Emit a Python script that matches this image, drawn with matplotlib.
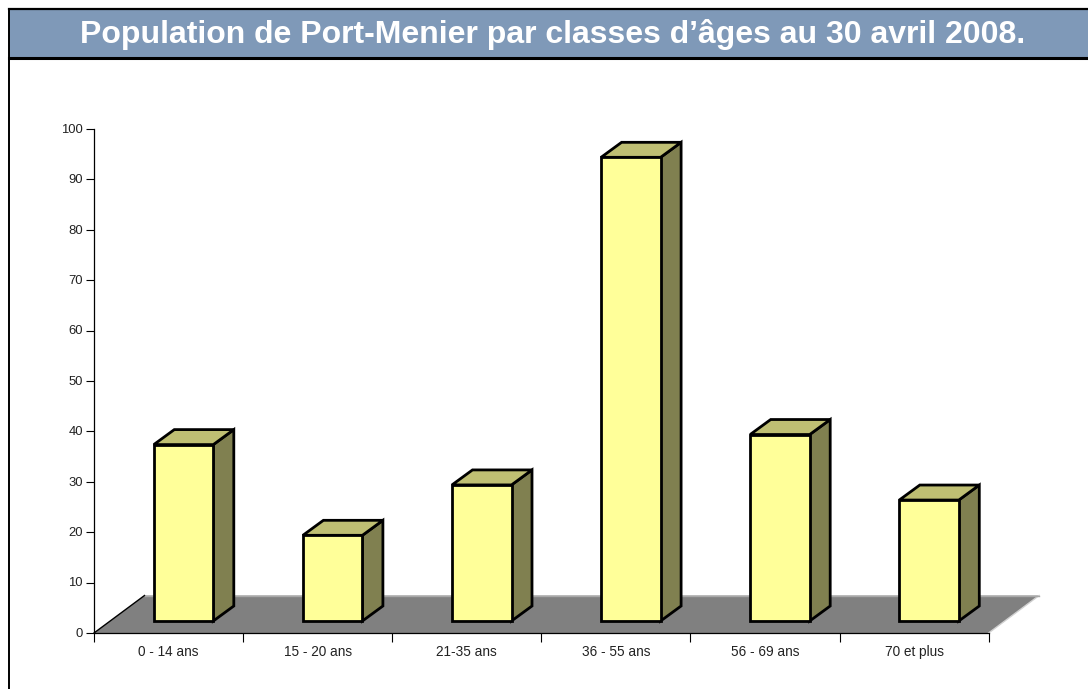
import matplotlib
matplotlib.use('Agg')
import matplotlib.pyplot as plt
from matplotlib.patches import Polygon, Rectangle
from matplotlib.transforms import ScaledTranslation

plt.rcParams['font.family'] = ['Liberation Sans', 'DejaVu Sans']

# Data
categories = ['0 - 14 ans', '15 - 20 ans', '21-35 ans', '36 - 55 ans', '56 - 69 ans', '70 et plus']
values = [35, 17, 27, 92, 37, 24]
y_ticks = [0, 10, 20, 30, 40, 50, 60, 70, 80, 90, 100]
title = 'Population de Port-Menier par classes d’âges au 30 avril 2008.'

# Figure size in pixels
W, H = 1088, 689
ax_left, ax_right = 94.0, 988.6
ax_top, ax_bottom = 129.0, 633.0

fig = plt.figure(figsize=(W / 100, H / 100), dpi=100, facecolor='white')
ax = fig.add_axes([ax_left / W, 1 - ax_bottom / H, (ax_right - ax_left) / W, (ax_bottom - ax_top) / H])
ax.set_xlim(0, len(categories))
ax.set_ylim(0, 100)
ax.patch.set_visible(False)

# pixel to data helpers
px_x = len(categories) / (ax_right - ax_left)
px_y = 100 / (ax_bottom - ax_top)

# Floor
n = len(categories)
floor_dx, floor_dy = 50.5 * px_x, 37.5 * px_y
ax.add_patch(Polygon([(0, 0), (n, 0), (n + floor_dx, floor_dy), (floor_dx, floor_dy)],
                     facecolor='#808080', edgecolor='none', clip_on=False, zorder=1))
ax.plot([0, floor_dx], [0, floor_dy], color='black', lw=1, clip_on=False, zorder=1.5)
ax.plot([n, n + floor_dx], [0, floor_dy], color='#d0d0d0', lw=1, clip_on=False, zorder=1.5)
ax.plot([floor_dx, n + floor_dx], [floor_dy, floor_dy], color='#a8a8a8', lw=1, clip_on=False, zorder=1.5)

# Bars with 3d sides
bar_w = 59.5 * px_x
base = 12 * px_y
off = 15 * px_x
dx, dy = 20.5 * px_x, 15 * px_y
edge = dict(edgecolor='black', linewidth=2, joinstyle='miter', clip_on=False)
for i, v in enumerate(values):
    x0 = i + 0.5 + off - bar_w / 2
    x1 = x0 + bar_w
    top = base + v
    ax.add_patch(Polygon([(x1, base), (x1 + dx, base + dy), (x1 + dx, top + dy), (x1, top)],
                         facecolor='#808050', zorder=3, **edge))
    ax.add_patch(Polygon([(x0, top), (x1, top), (x1 + dx, top + dy), (x0 + dx, top + dy)],
                         facecolor='#bfbf73', zorder=3, **edge))
    ax.add_patch(Rectangle((x0, base), bar_w, v, facecolor='#ffff99', zorder=4, **edge))

# Axes
for side in ['top', 'right']:
    ax.spines[side].set_visible(False)
ax.spines['left'].set_linewidth(0.9)
ax.spines['bottom'].set_linewidth(0.9)
ax.spines['bottom'].set_zorder(2)
ax.set_yticks(y_ticks)
ax.set_xticks(range(n + 1))
ax.set_xticklabels([])
ax.set_xticks([i + 0.5 for i in range(n)], categories, minor=True)
ax.tick_params(axis='y', length=5.5, width=0.8, labelsize=9.4, labelcolor='#222222', pad=2.5)
ax.tick_params(axis='x', which='major', length=6.5, width=0.8)
ax.tick_params(axis='x', which='minor', length=0, labelsize=9.8, labelcolor='#222222', pad=16.5)

# keep the category labels on one baseline
for label in ax.get_xticklabels(minor=True):
    label.set_verticalalignment('baseline')

# y labels sit a little above their ticks
for label in ax.get_yticklabels():
    label.set_transform(label.get_transform() + ScaledTranslation(0, 0.8 / 100, fig.dpi_scale_trans))

# Header band and frame
fig.add_artist(Rectangle((9 / W, 1 - 58 / H), (W - 9) / W, 49 / H, transform=fig.transFigure,
                         facecolor='#7f99b8', edgecolor='none'))
fig.add_artist(plt.Line2D([8.5 / W, 1], [1 - 9 / H, 1 - 9 / H], color='black', lw=1.6))
fig.add_artist(plt.Line2D([8.5 / W, 1], [1 - 58 / H, 1 - 58 / H], color='black', lw=2.2))
fig.add_artist(plt.Line2D([9.3 / W, 9.3 / W], [0, 1 - 9 / H], color='black', lw=1.4))
fig.text(553 / W, 1 - 34 / H, title, color='white', fontsize=23, fontweight='bold', ha='center', va='center')

fig.savefig('out.png', dpi=100)
